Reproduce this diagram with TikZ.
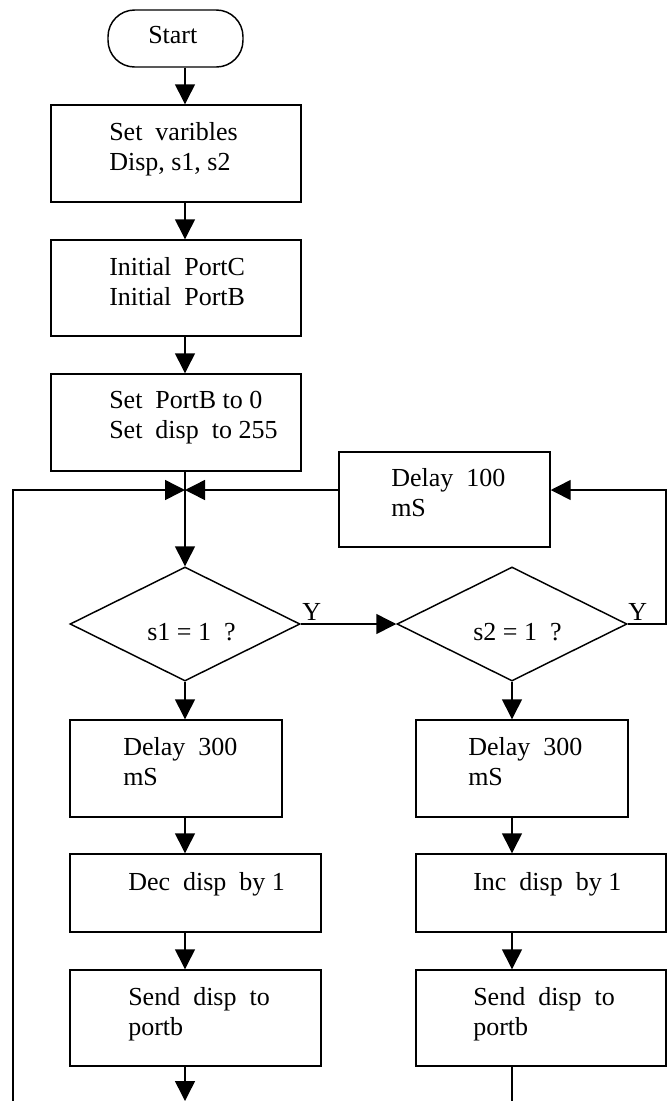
\documentclass[tikz,border=0pt]{standalone}
\usepackage{fontspec}
\setmainfont{Liberation Serif}
\usetikzlibrary{arrows.meta,shapes.geometric}
\begin{document}
\begin{tikzpicture}[x=0.75pt,y=-0.75pt,
  every node/.style={font=\fontsize{19.5}{22.5}\selectfont},
  box/.style={draw,line width=1.1pt,inner sep=0pt,rectangle},
  term/.style={draw,line width=1.1pt,rounded corners=20pt,inner sep=0pt,rectangle},
  decision/.style={draw,diamond,line width=1.1pt,inner sep=0pt},
  txt/.style={anchor=base west,inner sep=0pt,align=left},
  flow/.style={line width=1.1pt,-{Triangle[length=15pt,width=15pt]}},
  plain/.style={line width=1.1pt}]
\useasboundingbox (0,0) rectangle (670,1101);

% shapes
\node[term] (start) at (175.5,38.5) [minimum width=101.25pt,minimum height=42.75pt] {};
\node[box] (b1) at (176,153.5) [minimum width=187.5pt,minimum height=72.75pt] {};
\node[box] (b2) at (176,288) [minimum width=187.5pt,minimum height=72pt] {};
\node[box] (b3) at (176,422.5) [minimum width=187.5pt,minimum height=72.75pt] {};
\node[box] (d100) at (444.5,499.5) [minimum width=158.25pt,minimum height=71.25pt] {};
\node[decision] (d1) at (185,624) [minimum width=172.5pt,minimum height=85.5pt] {};
\node[decision] (d2) at (512,624) [minimum width=172.5pt,minimum height=85.5pt] {};
\node[box] (L300) at (176,768.5) [minimum width=159pt,minimum height=72.75pt] {};
\node[box] (decb) at (195.5,893) [minimum width=188.25pt,minimum height=58.5pt] {};
\node[box] (sendL) at (195.5,1018) [minimum width=188.25pt,minimum height=72pt] {};
\node[box] (R300) at (522,768.5) [minimum width=159pt,minimum height=72.75pt] {};
\node[box] (incb) at (541,893) [minimum width=187.5pt,minimum height=58.5pt] {};
\node[box] (sendR) at (541,1018) [minimum width=187.5pt,minimum height=72pt] {};

% texts (multi-line nodes: base = baseline of last line)
\node[txt] (t0) at (148,43) {Start};
\node[txt] (t1) at (109,170) {Set\ \ varibles\\Disp, s1, s2};
\node[txt] (t2) at (109,305) {Initial\ \ PortC\\Initial\ \ PortB};
\node[txt] (t3) at (109,438) {Set\ \ PortB to 0\\Set\ \ disp\ \ to 255};
\node[txt] (t4) at (391,516) {Delay\ \ 100\\mS};
\node[txt] (t5) at (147,640) {s1 = 1\ \ ?};
\node[txt] (t6) at (473,640) {s2 = 1\ \ ?};
\node[txt] (y1) at (302,620) {Y};
\node[txt] (y2) at (628,620) {Y};
\node[txt] (t7) at (123,785) {Delay\ \ 300\\mS};
\node[txt] (t8) at (128,890) {Dec\ \ disp\ \ by 1};
\node[txt] (t9) at (128,1035) {Send\ \ disp\ \ to\\portb};
\node[txt] (t10) at (468,785) {Delay\ \ 300\\mS};
\node[txt] (t11) at (473,890) {Inc\ \ disp\ \ by 1};
\node[txt] (t12) at (473,1035) {Send\ \ disp\ \ to\\portb};

% helper coordinates
\coordinate (cl) at (185,0);
\coordinate (cr) at (512,0);
\coordinate (rc) at (666,0);
\coordinate (merge) at (185,490);
\coordinate (endL) at (185,1101);
\coordinate (endR) at (512,1101);
\coordinate (loopB) at (13,1101);
\coordinate (loopT) at (13,490);

% connectors
\draw[flow] (start.south -| cl) -- (b1.north -| cl);
\draw[flow] (b1.south -| cl) -- (b2.north -| cl);
\draw[flow] (b2.south -| cl) -- (b3.north -| cl);
\draw[flow] (b3.south -| cl) -- (d1.north);
\draw[flow] (loopB) -- (loopT) -- (merge);
\draw[flow] (d100.west |- merge) -- (merge);
\draw[flow] (d1.east) -- (d2.west);
\draw[flow] (d2.east) -- (d2.east -| rc) -- (rc |- merge) -- (d100.east |- merge);
\draw[flow] (d1.south) -- (L300.north -| cl);
\draw[flow] (L300.south -| cl) -- (decb.north -| cl);
\draw[flow] (decb.south -| cl) -- (sendL.north -| cl);
\draw[flow] (sendL.south -| cl) -- (endL);
\draw[flow] (d2.south) -- (R300.north -| cr);
\draw[flow] (R300.south -| cr) -- (incb.north -| cr);
\draw[flow] (incb.south -| cr) -- (sendR.north -| cr);
\draw[plain] (sendR.south -| cr) -- (endR);
\end{tikzpicture}
\end{document}
